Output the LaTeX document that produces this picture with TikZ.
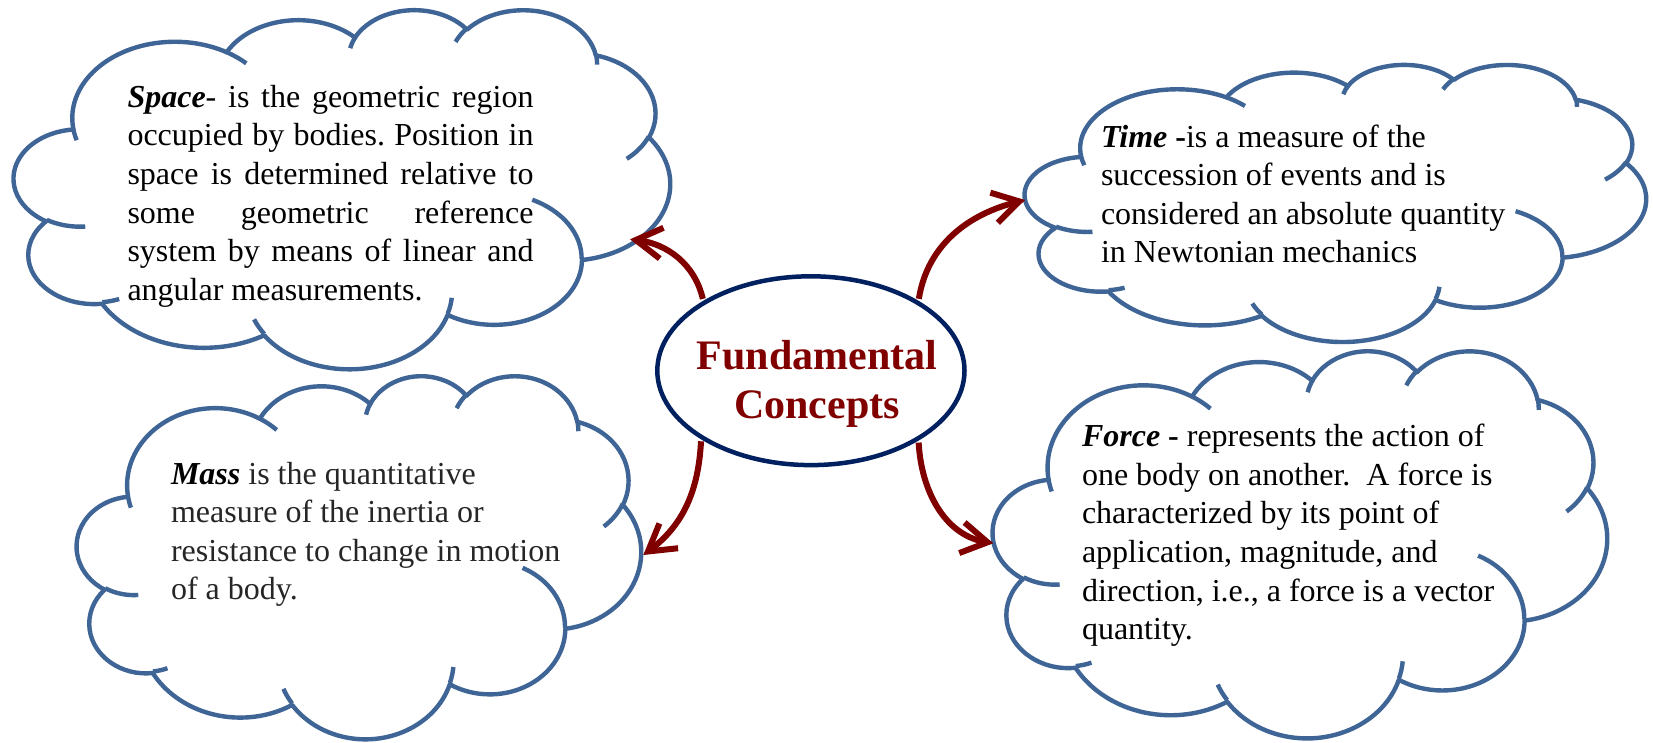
\documentclass[tikz,border=0pt]{standalone}
\usepackage{fontspec}
\setmainfont{Liberation Serif}
\usetikzlibrary{arrows.meta,shapes.geometric}
\definecolor{cloudblue}{RGB}{62,101,150}
\definecolor{navyc}{RGB}{0,32,96}
\definecolor{darkred}{RGB}{128,0,0}
\definecolor{masstext}{RGB}{38,38,38}
\makeatletter
\newcommand\cldcalc[5]{%
  \pgfmathsetmacro\cld@a{atan2((#2)*sin(#4),(#3)*cos(#4))}%
  \pgfmathsetmacro\cld@b{atan2((#2)*sin((#4)+(#5)),(#3)*cos((#4)+(#5)))}%
  \pgfmathsetmacro\cld@d{\cld@b-(\cld@a)}%
  \ifdim\cld@d pt<0pt \pgfmathsetmacro\cld@d{\cld@d+360}\fi
  \expandafter\xdef\csname clds#1\endcsname{\cld@a}%
  \expandafter\xdef\csname cldd#1\endcsname{\cld@d}%
}
\makeatother
\cldcalc{ma}{6.753}{9.19}{-190.4875}{123.7805}
\cldcalc{mb}{5.333}{7.267}{-144.1024}{89.9452}
\cldcalc{mc}{4.365}{5.945}{-145.8079}{99.7230}
\cldcalc{md}{4.857}{6.595}{-130.9861}{117.2417}
\cldcalc{me}{5.333}{7.273}{-78.7089}{109.0269}
\cldcalc{mf}{6.775}{9.22}{-46.2673}{130.2690}
\cldcalc{mg}{5.785}{7.867}{0.6250}{114.0333}
\cldcalc{mh}{6.752}{9.215}{22.4516}{115.1726}
\cldcalc{mi}{7.72}{10.543}{66.2426}{75.7110}
\cldcalc{mj}{4.36}{5.918}{-274.9421}{146.7356}
\cldcalc{mk}{4.345}{5.945}{-246.8285}{152.5189}
\cldcalc{ia}{4.345}{5.945}{86.7420}{26.4295}
\cldcalc{ib}{4.36}{5.918}{73.6105}{11.4475}
\cldcalc{ic}{6.752}{9.215}{137.6242}{14.0811}
\cldcalc{id}{6.752}{9.215}{6.4533}{15.9984}
\cldcalc{ie}{5.785}{7.867}{-70.2924}{70.9174}
\cldcalc{if}{5.333}{7.273}{30.3180}{27.7515}
\cldcalc{ig}{4.857}{6.595}{-13.7443}{14.8589}
\cldcalc{ih}{4.857}{6.595}{-149.1815}{18.1954}
\cldcalc{ii}{4.365}{5.945}{-163.4943}{17.6864}
\cldcalc{ij}{6.753}{9.19}{-66.7070}{12.3194}
\cldcalc{ik}{6.753}{9.19}{157.6544}{11.8582}
\newcommand\cldS[1]{\csname clds#1\endcsname}
\newcommand\cldD[1]{\csname cldd#1\endcsname}
\newcommand\cldarc[3]{arc[start angle=\cldS{#1}, delta angle=\cldD{#1}, x radius=#2pt, y radius=#3pt]}
\newcommand\cldouter{(3.9pt,14.37pt)
  \cldarc{ma}{6.753}{9.19} \cldarc{mb}{5.333}{7.267} \cldarc{mc}{4.365}{5.945}
  \cldarc{md}{4.857}{6.595} \cldarc{me}{5.333}{7.273} \cldarc{mf}{6.775}{9.22}
  \cldarc{mg}{5.785}{7.867} \cldarc{mh}{6.752}{9.215} \cldarc{mi}{7.72}{10.543}
  \cldarc{mj}{4.36}{5.918} \cldarc{mk}{4.345}{5.945} -- cycle}
\newcommand\cldinner{(4.693pt,26.177pt) \cldarc{ia}{4.345}{5.945}
  (6.928pt,34.899pt) \cldarc{ib}{4.36}{5.918}
  (16.478pt,39.09pt) \cldarc{ic}{6.752}{9.215}
  (28.827pt,34.751pt) \cldarc{id}{6.752}{9.215}
  (34.129pt,22.954pt) \cldarc{ie}{5.785}{7.867}
  (41.798pt,15.354pt) \cldarc{if}{5.333}{7.273}
  (38.324pt,5.426pt) \cldarc{ig}{4.857}{6.595}
  (29.078pt,3.952pt) \cldarc{ih}{4.857}{6.595}
  (22.141pt,4.72pt) \cldarc{ii}{4.365}{5.945}
  (14pt,5.192pt) \cldarc{ij}{6.753}{9.19}
  (4.127pt,15.789pt) \cldarc{ik}{6.753}{9.19}}
\newcommand\drawcloud[4]{%
  \begin{scope}[shift={(#1,-#2)}, xscale=#3/43.2, yscale=-#4/43.2]
    \path[cloudshape] \cldouter;
    \path[cloudinner] \cldinner;
  \end{scope}}
\newcommand\txtfont{\fontsize{32}{38.6}\selectfont\frenchspacing}
\tikzset{
  cloudshape/.style={draw=cloudblue, line width=4.4pt, line join=round, fill=white},
  cloudinner/.style={draw=cloudblue, line width=4.4pt},
  txt/.style={inner sep=0pt, outer sep=0pt, anchor=base west},
  centre/.style={ellipse, draw=navyc, line width=4.5pt, fill=white, inner sep=0pt,
    minimum width=307.2pt, minimum height=188.8pt},
  redarrow/.style={draw=darkred, line width=6pt, -{Straight Barb[length=26pt,width=31pt]},
    shorten <=2pt}
}
\begin{document}
\begin{tikzpicture}[x=1pt,y=1pt]
\useasboundingbox (0,0) rectangle (1653,-742);
\fill[white] (0,0) rectangle (1653,-742);
% clouds
\drawcloud{14}{9}{656}{359}
\drawcloud{1025}{64}{621}{277}
\drawcloud{77}{375}{564}{363}
\drawcloud{993}{350}{614}{387}
% centre
\node[centre] (fc) at (810.9,-370.7) {};
\node[inner sep=0pt, anchor=base, text=darkred,
  font=\fontsize{42}{49}\selectfont\bfseries] (fctext) at (817,-369.3)
  {\parbox[t]{320pt}{\centering Fundamental\\Concepts}};
% arrow ends
\coordinate (spacetip) at (630,-239.3);
\coordinate (timetip) at (1025,-200);
\coordinate (masstip) at (643.3,-555);
\coordinate (forcetip) at (993.3,-543.3);
\draw[redarrow] (fc.147) to[out=103, in=-7] (spacetip);
\draw[redarrow] (fc.33) to[out=81, in=-166] (timetip);
\draw[redarrow] (fc.212) to[out=-93, in=37] (masstip);
\draw[redarrow] (fc.-33) to[out=-87, in=170] (forcetip);
% texts
\node[txt] (spacetxt) at (127.5,-107.3) {\parbox[t]{420pt}{\txtfont
  \makebox[406pt][s]{\textbf{\textit{Space}}- is the geometric region}\\
  \makebox[406pt][s]{occupied by bodies. Position in}\\
  \makebox[406pt][s]{space is determined relative to}\\
  \makebox[406pt][s]{some geometric reference}\\
  \makebox[406pt][s]{system by means of linear and}\\
  angular measurements.}};
\node[txt] (timetxt) at (1101,-147) {\parbox[t]{480pt}{\txtfont
  \textbf{\textit{Time}} \textbf{-}is a measure of the\\
  succession of events and is\\
  considered an absolute quantity\\
  in Newtonian mechanics}};
\node[txt] (masstxt) at (171,-484) {\parbox[t]{440pt}{\txtfont
  \textbf{\textit{Mass}} \color{masstext}is the quantitative\\
  measure of the inertia or\\
  resistance to change in motion\\
  of a body.}};
\node[txt] (forcetxt) at (1082,-446.7) {\parbox[t]{480pt}{\txtfont
  \textbf{\textit{Force}} \textbf{-} represents the action of\\
  one body on another.\ \ A force is\\
  characterized by its point of\\
  application, magnitude, and\\
  direction, i.e., a force is a vector\\
  quantity.}};
\end{tikzpicture}
\end{document}
